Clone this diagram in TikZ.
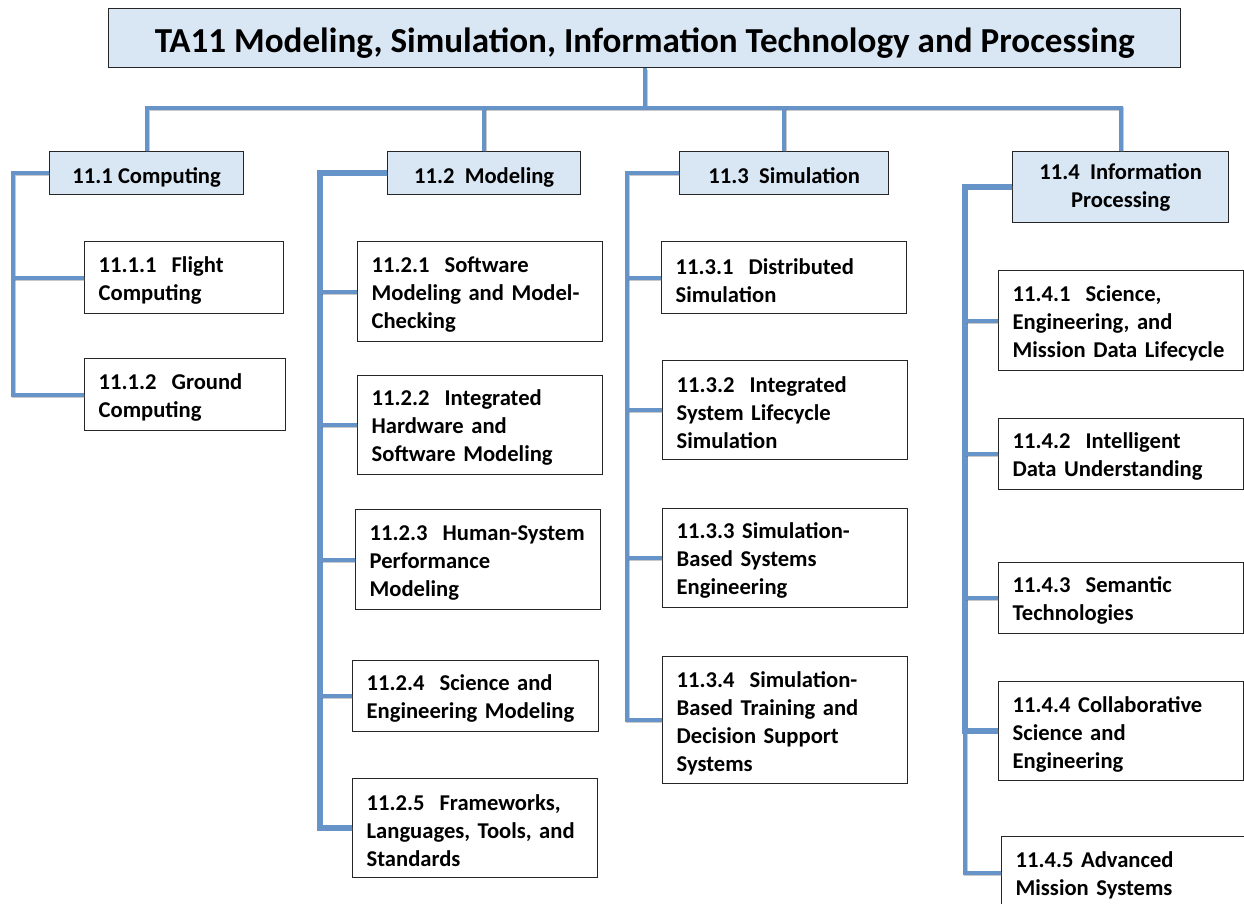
\documentclass[tikz,border=0pt]{standalone}
\usepackage{fontspec}
\setmainfont{Carlito}
\definecolor{lblue}{HTML}{6693C8}
\definecolor{hfill}{HTML}{D9E6F4}
\begin{document}
\begin{tikzpicture}[x=1pt,y=-1pt,
  box/.style={draw=black!85, line width=1.3pt, font=\bfseries\fontsize{22.6}{28}\selectfont},
  head/.style={box, fill=hfill, align=center, inner sep=0pt, anchor=north west},
  onehead/.style={head, text height=25pt, text depth=5pt},
  leaf/.style={box, fill=white, align=left, inner xsep=14pt, inner ysep=0pt, anchor=north west,
     execute at begin node={\rule{0pt}{21.5pt}}},
  conn/.style={draw=lblue, line width=4pt,
     preaction={draw=black!60, draw opacity=.35, line width=4pt, transform canvas={shift={(1pt,-1.2pt)}}}},
  thick conn/.style={conn, line width=5.5pt}
]
\useasboundingbox (0,0) rectangle (1244,903);
\fill[white] (0,0) rectangle (1244,903);

% title
\node[head, minimum width=1072pt, minimum height=59pt, text height=34pt, text depth=5pt,
      font=\bfseries\fontsize{35.1}{40}\selectfont] (title) at (108,8)
  {TA11 Modeling, Simulation, Information Technology and Processing};

% level 1
\node[onehead, minimum width=194pt, minimum height=43pt] (c1) at (49,151) {11.1 Computing};
\node[onehead, minimum width=193pt, minimum height=43pt] (c2) at (387,151) {11.2~~Modeling};
\node[onehead, minimum width=209pt, minimum height=43pt] (c3) at (679,151) {11.3~~Simulation};
\node[head, minimum width=216pt, minimum height=71pt, execute at begin node={\rule{0pt}{26pt}}] (c4) at (1012,151) {11.4~~Information\\Processing};

% leaves
\node[leaf, minimum width=199pt, text width=171pt, minimum height=72pt] (l11) at (84,241) {11.1.1~~Flight\\Computing};
\node[leaf, minimum width=201pt, text width=173pt, minimum height=72pt] (l12) at (84,358) {11.1.2~~Ground\\Computing};

\node[leaf, minimum width=245pt, text width=217pt, minimum height=100pt] (l21) at (357,241) {11.2.1~~Software\\Modeling and Model-\\Checking};
\node[leaf, minimum width=245pt, text width=217pt, minimum height=99pt] (l22) at (357,375) {11.2.2~~Integrated\\Hardware and\\Software Modeling};
\node[leaf, minimum width=245pt, text width=217pt, minimum height=100pt] (l23) at (355,509) {\mbox{11.2.3~~Human-System}\\Performance\\Modeling};
\node[leaf, minimum width=246pt, text width=218pt, minimum height=71pt] (l24) at (352,660) {11.2.4~~Science and\\Engineering Modeling};
\node[leaf, minimum width=245pt, text width=217pt, minimum height=99pt] (l25) at (352,778) {11.2.5~~Frameworks,\\Languages, Tools, and\\Standards};

\node[leaf, minimum width=245pt, text width=217pt, minimum height=72pt] (l31) at (661,241) {11.3.1~~Distributed\\Simulation};
\node[leaf, minimum width=245pt, text width=217pt, minimum height=99pt] (l32) at (662,360) {11.3.2~~Integrated\\System Lifecycle\\Simulation};
\node[leaf, minimum width=245pt, text width=217pt, minimum height=99pt] (l33) at (662,508) {11.3.3 Simulation-\\Based Systems\\Engineering};
\node[leaf, minimum width=245pt, text width=217pt, minimum height=127pt] (l34) at (662,656) {11.3.4~~Simulation-\\Based Training and\\Decision Support\\Systems};

\node[leaf, minimum width=245pt, text width=217pt, minimum height=100pt] (l41) at (998,270) {11.4.1~~Science,\\Engineering, and\\\mbox{Mission Data Lifecycle}};
\node[leaf, minimum width=245pt, text width=217pt, minimum height=71pt] (l42) at (998,418) {11.4.2~~Intelligent\\Data Understanding};
\node[leaf, minimum width=245pt, text width=217pt, minimum height=71pt] (l43) at (998,562) {11.4.3~~Semantic\\Technologies};
\node[leaf, minimum width=245pt, text width=217pt, minimum height=99pt] (l44) at (998,681) {11.4.4 Collaborative\\Science and\\Engineering};
\node[leaf, minimum width=245pt, text width=217pt, minimum height=72pt] (l45) at (1001,836) {11.4.5 Advanced\\Mission Systems};

% connectors
\coordinate (bus) at (0,108);
\coordinate (s1) at (13,0);
\coordinate (s2) at (320,0);
\coordinate (s3) at (627,0);
\coordinate (s4) at (965,0);

\draw[conn] (title.south) -- (title.south |- bus);
\draw[conn] (c1.north) -- (c1.north |- bus) -- (c4.north |- bus) -- (c4.north);
\draw[conn] (c2.north) -- (c2.north |- bus);
\draw[conn] (c3.north) -- (c3.north |- bus);

\draw[conn] (c1.west) -| (s1 |- l12.west) -- (l12.west);
\draw[conn] (s1 |- l11.west) -- (l11.west);

\draw[thick conn] (c2.west) -| (s2 |- l25.west) -- (l25.west);
\foreach \n in {l21,l22,l23,l24} \draw[conn] (s2 |- \n.west) -- (\n.west);

\draw[conn] (c3.west) -| (s3 |- l34.west) -- (l34.west);
\foreach \n in {l31,l32,l33} \draw[conn] (s3 |- \n.west) -- (\n.west);

\draw[conn] (s4 |- l44.west) -- (s4 |- l45.west) -- (l45.west);
\draw[thick conn] (c4.west) -| (s4 |- l44.west) -- (l44.west);
\foreach \n in {l41,l42,l43} \draw[conn] (s4 |- \n.west) -- (\n.west);
\end{tikzpicture}
\end{document}
